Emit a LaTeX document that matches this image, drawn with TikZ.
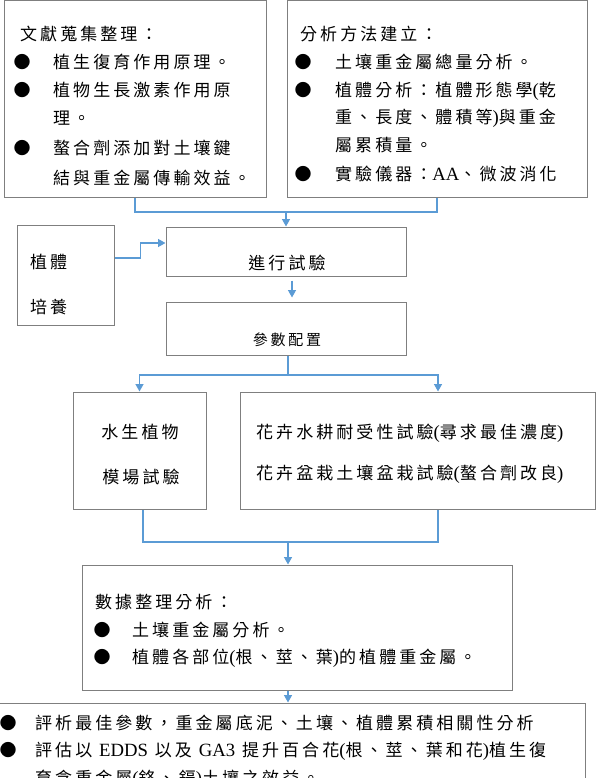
\documentclass[tikz,border=0pt]{standalone}
\usepackage{fontspec}
\setmainfont{Liberation Serif}
\newfontfamily\cjk[LetterSpace=18]{Noto Sans CJK TC}
\newfontfamily\latfont[Scale=1.1]{Liberation Serif}
\newcommand\lt[1]{{\latfont #1}}
\usetikzlibrary{arrows.meta}
\definecolor{boxgray}{HTML}{7F7F7F}
\definecolor{linkblue}{HTML}{5B9BD5}
\begin{document}
\begin{tikzpicture}[x=1pt,y=-1pt,
  box/.style={draw=boxgray, line width=1pt, inner sep=0pt, fill=white},
  conn/.style={draw=linkblue, line width=1.4pt},
  arr/.style={conn, -{Triangle[length=7.5pt,width=8pt]}},
  txt/.style={anchor=base west, inner sep=0pt, font=\cjk\fontsize{17}{20}\selectfont},
  ctxt/.style={anchor=base, inner sep=0pt, font=\cjk\fontsize{17}{20}\selectfont},
  stxt/.style={anchor=base, inner sep=0pt, font=\cjk\fontsize{15}{18}\selectfont},
  bul/.style={anchor=base, inner sep=0pt, font=\cjk\fontsize{17}{20}\selectfont}]
\useasboundingbox (0,0) rectangle (604,778);
\clip (0,0) rectangle (604,778);

% boxes
\node[box, minimum width=262pt, minimum height=196pt] (lit) at (135,99) {};
\node[box, minimum width=300pt, minimum height=196pt] (meth) at (437,99) {};
\node[box, minimum width=97pt, minimum height=100pt] (cult) at (65.5,275) {};
\node[box, minimum width=240pt, minimum height=49pt] (run) at (286,251.5) {};
\node[box, minimum width=240pt, minimum height=53pt] (param) at (286,328.5) {};
\node[box, minimum width=133pt, minimum height=117pt] (aq) at (139.5,450.5) {};
\node[box, minimum width=355pt, minimum height=117pt] (pot) at (417.5,450.5) {};
\node[box, minimum width=430pt, minimum height=125pt] (data) at (297,627.5) {};
\node[box, minimum width=587pt, minimum height=97pt] (res) at (291.5,751.5) {};

% box 1 text
\node[txt] (t11) at (20,41) {文獻蒐集整理：};
\node[bul] (b11) at (22,69) {●};
\node[txt] (t12) at (53,69) {植生復育作用原理。};
\node[bul] (b12) at (22,97) {●};
\node[txt] (t13) at (53,97) {植物生長激素作用原};
\node[txt] (t14) at (53,125) {理。};
\node[bul] (b13) at (22,155) {●};
\node[txt] (t15) at (53,155) {螯合劑添加對土壤鍵};
\node[txt] (t16) at (53,184) {結與重金屬傳輸效益。};

% box 2 text
\node[txt] (t21) at (300,41) {分析方法建立：};
\node[bul] (b21) at (303,69) {●};
\node[txt] (t22) at (335,69) {土壤重金屬總量分析。};
\node[bul] (b22) at (303,97) {●};
\node[txt] (t23) at (335,97) {植體分析：植體形態學\lt{(}乾};
\node[txt] (t24) at (335,124) {重、長度、體積等\lt{)}與重金};
\node[txt] (t25) at (335,152) {屬累積量。};
\node[bul] (b23) at (303,180) {●};
\begin{scope}
\clip (287,150) rectangle (574,197);
\node[txt] (t26) at (335,180) {實驗儀器：\lt{AA}、微波消化};
\end{scope}

% side box
\node[txt] (tc1) at (30,268) {植體};
\node[txt] (tc2) at (30,313) {培養};

\node[ctxt] (trun) at (287,269) {進行試驗};
\node[stxt] (tpar) at (287,345) {參數配置};

\node[ctxt] (ta1) at (140,438) {水生植物};
\node[ctxt] (ta2) at (141,483) {模場試驗};

\node[txt] (tp1) at (256,438) {花卉水耕耐受性試驗\lt{(}尋求最佳濃度\lt{)}};
\node[txt] (tp2) at (256,479) {花卉盆栽土壤盆栽試驗\lt{(}螯合劑改良\lt{)}};

% data box
\node[txt] (td1) at (95,608) {數據整理分析：};
\node[bul] (bd1) at (102,636) {●};
\node[txt] (td2) at (132,636) {土壤重金屬分析。};
\node[bul] (bd2) at (102,663) {●};
\node[txt] (td3) at (132,663) {植體各部位\lt{(}根、莖、葉\lt{)}的植體重金屬。};

% result box
\node[bul] (br1) at (8,729) {●};
\node[txt] (tr1) at (35,729) {評析最佳參數，重金屬底泥、土壤、植體累積相關性分析};
\node[bul] (br2) at (8,756) {●};
\node[txt] (tr2) at (35,756) {評估以 \lt{EDDS} 以及 \lt{GA3} 提升百合花\lt{(}根、莖、葉和花\lt{)}植生復};
\node[txt] (tr3) at (35,784) {育含重金屬\lt{(}鉻、鎘\lt{)}土壤之效益。};

% connectors
\coordinate (j1) at (286,212);
\draw[conn] (lit.south) |- (j1);
\draw[conn] (meth.south) |- (j1);
\draw[arr] (j1) -- (run.north);
\draw[arr] ([yshift=17pt]cult.east) -- ++(26,0) |- ([yshift=8.5pt]run.west);
\draw[arr] ([xshift=6pt,yshift=-4pt]run.south) -- ([xshift=6pt,yshift=4pt]param.north);
\coordinate (j2) at (288,375);
\draw[conn] ([xshift=2pt]param.south) -- (j2);
\draw[arr] (j2) -| (aq.north);
\draw[arr] (j2) -| ([xshift=20.5pt]pot.north);
\coordinate (j3) at (288,542);
\draw[conn] ([xshift=3.5pt]aq.south) |- (j3);
\draw[conn] ([xshift=20.5pt]pot.south) |- (j3);
\draw[arr] (j3) -- (j3 |- data.north);
\draw[arr] (data.south -| j3) -- (res.north -| j3);
\end{tikzpicture}
\end{document}
